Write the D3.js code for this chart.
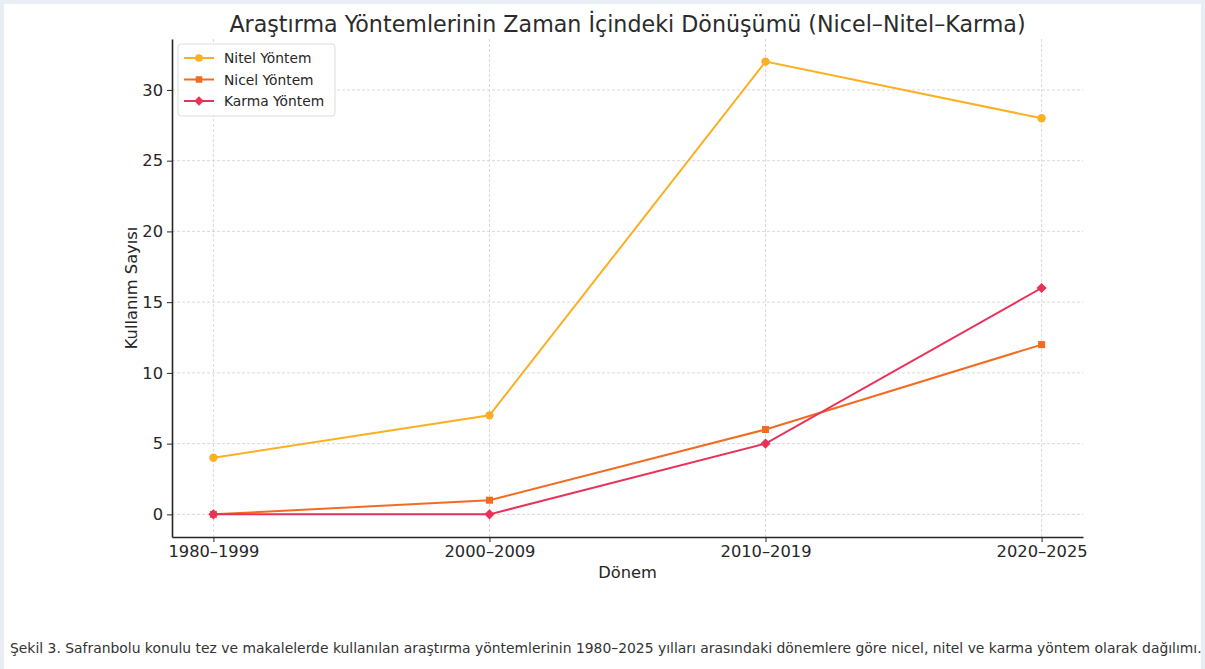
<!DOCTYPE html>
<html>
<head>
<meta charset="utf-8">
<script src="https://cdn.jsdelivr.net/npm/d3@7"></script>
<style>
  body { margin: 0; background: #e9eef4; }
  #chart { position: absolute; left: 4px; top: 4px; width: 1197px; height: 665px; background: #fff; }
  text { font-family: "DejaVu Sans", sans-serif; }
</style>
</head>
<body>
<div id="chart"></div>
<script>
// Veriler
const periods = ["1980–1999", "2000–2009", "2010–2019", "2020–2025"];
const nitel = [4, 7, 32, 28];
const nicel = [0, 1, 6, 12];
const karma = [0, 0, 5, 16];
const yTicks = [0, 5, 10, 15, 20, 25, 30];

// elmas = 45° döndürülmüş kare (matplotlib 'D')
const series = [
  { name: "Nitel Yöntem", values: nitel, color: "#fbb024", symbol: d3.symbolCircle, size: 55, rot: 0 },
  { name: "Nicel Yöntem", values: nicel, color: "#f26b21", symbol: d3.symbolSquare, size: 50, rot: 0 },
  { name: "Karma Yöntem", values: karma, color: "#ea3159", symbol: d3.symbolSquare, size: 52, rot: 45 }
];

const width = 1197, height = 665;
const svg = d3.select("#chart").append("svg")
  .attr("width", width)
  .attr("height", height);

const ox = -4, oy = -4; // sayfa -> svg kayması
const plotLeft = 172 + ox, plotRight = 1083 + ox, plotTop = 39 + oy, plotBottom = 537 + oy;

const x = d3.scaleLinear().domain([-0.15, 3.15]).range([plotLeft, plotRight]);
const y = d3.scaleLinear().domain([-1.6, 33.6]).range([plotBottom, plotTop]);

// Izgara
svg.append("g").selectAll("line").data(yTicks).enter().append("line")
  .attr("x1", plotLeft).attr("x2", plotRight)
  .attr("y1", d => y(d)).attr("y2", d => y(d))
  .attr("stroke", "#cfcfcf").attr("stroke-width", 0.8).attr("stroke-dasharray", "3,2");
svg.append("g").selectAll("line").data(periods).enter().append("line")
  .attr("x1", (d, i) => x(i)).attr("x2", (d, i) => x(i))
  .attr("y1", plotTop).attr("y2", plotBottom)
  .attr("stroke", "#cfcfcf").attr("stroke-width", 0.8).attr("stroke-dasharray", "3,2");

// Eksenler
const xAxis = svg.append("g")
  .attr("transform", `translate(0,${plotBottom})`)
  .call(d3.axisBottom(x).tickValues([0, 1, 2, 3]).tickFormat(i => periods[i]).tickSize(5).tickPadding(3).tickSizeOuter(0));
const yAxis = svg.append("g")
  .attr("transform", `translate(${plotLeft},0)`)
  .call(d3.axisLeft(y).tickValues(yTicks).tickSize(5).tickPadding(4).tickSizeOuter(0));
[xAxis, yAxis].forEach(a => {
  a.select(".domain").attr("stroke", "#262626").attr("stroke-width", 1.6);
  a.selectAll(".tick line").attr("stroke", "#262626");
  a.selectAll("text").attr("font-size", 16.3).attr("fill", "#262626")
    .attr("font-family", "DejaVu Sans, sans-serif");
});

// Çizgiler
const line = d3.line().x((d, i) => x(i)).y(d => y(d));
series.forEach(s => {
  svg.append("path").datum(s.values)
    .attr("d", line)
    .attr("fill", "none")
    .attr("stroke", s.color)
    .attr("stroke-width", 2);
  svg.append("g").selectAll("path").data(s.values).enter().append("path")
    .attr("transform", (d, i) => `translate(${x(i)},${y(d)}) rotate(${s.rot})`)
    .attr("d", d3.symbol().type(s.symbol).size(s.size))
    .attr("fill", s.color);
});

// Başlık ve etiketler
svg.append("text")
  .attr("x", (plotLeft + plotRight) / 2).attr("y", 32 + oy)
  .attr("text-anchor", "middle")
  .attr("font-size", 22.2).attr("fill", "#2b2b2b")
  .text("Araştırma Yöntemlerinin Zaman İçindeki Dönüşümü (Nicel–Nitel–Karma)");
svg.append("text")
  .attr("x", (plotLeft + plotRight) / 2).attr("y", 578 + oy)
  .attr("text-anchor", "middle")
  .attr("font-size", 16.3).attr("fill", "#262626")
  .text("Dönem");
svg.append("text")
  .attr("transform", `translate(${137 + ox},${(plotTop + plotBottom) / 2}) rotate(-90)`)
  .attr("text-anchor", "middle")
  .attr("font-size", 16.3).attr("fill", "#262626")
  .text("Kullanım Sayısı");

// Lejant
const lg = svg.append("g").attr("transform", `translate(${178 + ox},${44 + oy})`);
lg.append("rect").attr("width", 157).attr("height", 72).attr("rx", 3)
  .attr("fill", "#fff").attr("fill-opacity", 0.85).attr("stroke", "#dcdcdc");
series.forEach((s, i) => {
  const g = lg.append("g").attr("transform", `translate(0,${14 + i * 21.5})`);
  g.append("line").attr("x1", 6).attr("x2", 36).attr("stroke", s.color).attr("stroke-width", 2);
  g.append("path").attr("transform", `translate(21,0) rotate(${s.rot})`)
    .attr("d", d3.symbol().type(s.symbol).size(s.size * 0.85))
    .attr("fill", s.color);
  g.append("text").attr("x", 46).attr("y", 5)
    .attr("font-size", 13.8).attr("fill", "#262626").text(s.name);
});

// Altyazı
svg.append("text")
  .attr("x", 10 + ox).attr("y", 653 + oy)
  .attr("font-size", 13.9).attr("fill", "#333")
  .text("Şekil 3. Safranbolu konulu tez ve makalelerde kullanılan araştırma yöntemlerinin 1980–2025 yılları arasındaki dönemlere göre nicel, nitel ve karma yöntem olarak dağılımı.");
</script>
</body>
</html>
